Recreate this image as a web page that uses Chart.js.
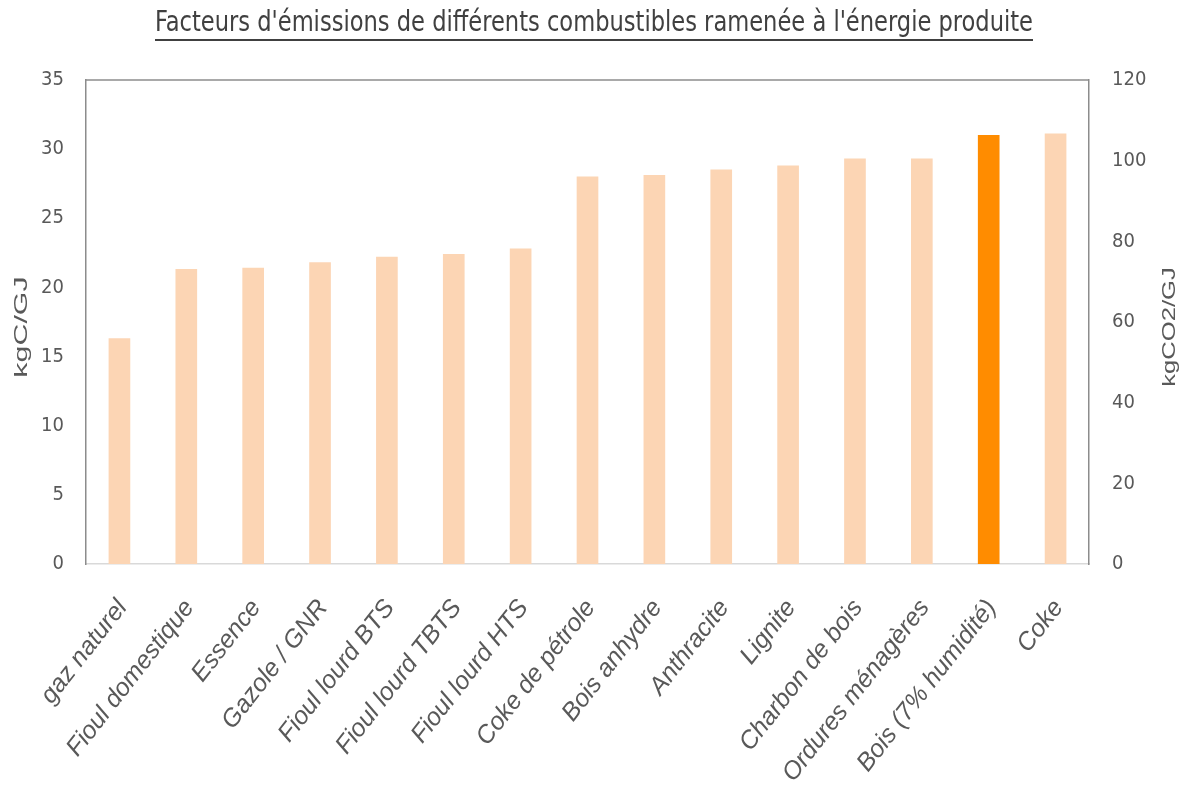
<!DOCTYPE html>
<html lang="fr">
<head>
    <meta charset="UTF-8">
    <title>Facteurs d'émissions</title>
    <script src="https://cdn.jsdelivr.net/npm/chart.js"></script>
    <style>
        html, body { margin: 0; padding: 0; background: #fff; }
        .chart-container { width: 1184px; height: 786px; }
    </style>
</head>
<body>
    <div class="chart-container">
        <canvas id="emissionsChart"></canvas>
    </div>
    <script>
        const titleText = "Facteurs d'émissions de différents combustibles ramenée à l'énergie produite";
        const categories = ['gaz naturel', 'Fioul domestique', 'Essence', 'Gazole / GNR', 'Fioul lourd BTS',
            'Fioul lourd TBTS', 'Fioul lourd HTS', 'Coke de pétrole', 'Bois anhydre', 'Anthracite',
            'Lignite', 'Charbon de bois', 'Ordures ménagères', 'Bois (7% humidité)', 'Coke'];
        const kgC = [16.3, 21.3, 21.4, 21.8, 22.2, 22.4, 22.8, 28.0, 28.1, 28.5, 28.8, 29.3, 29.3, 31.0, 31.1];
        const highlighted = 'Bois (7% humidité)';
        const leftTicks = { max: 35, step: 5, title: 'kgC/GJ' };
        const rightTicks = { max: 120, step: 20, title: 'kgCO2/GJ' };

        const narrow = '"Liberation Sans Narrow", "DejaVu Sans Condensed", "Liberation Sans", sans-serif';
        const grey = '#595959';

        // titre souligné + titres d'axes + bord haut du cadre
        const decor = {
            id: 'decor',
            afterDraw(chart) {
                const { ctx, chartArea: a } = chart;
                ctx.save();
                ctx.strokeStyle = '#8c8c8c'; ctx.lineWidth = 1.5;
                ctx.beginPath(); ctx.moveTo(a.left, a.top); ctx.lineTo(a.right, a.top); ctx.stroke();

                const cx = 594, titleW = 878;
                ctx.font = '28px ' + narrow;
                const sx = titleW / ctx.measureText(titleText).width;
                ctx.save();
                ctx.translate(cx, 31); ctx.scale(sx, 1);
                ctx.fillStyle = '#404040'; ctx.textAlign = 'center'; ctx.textBaseline = 'alphabetic';
                ctx.fillText(titleText, 0, 0);
                ctx.restore();
                ctx.strokeStyle = '#404040'; ctx.lineWidth = 2;
                ctx.beginPath(); ctx.moveTo(cx - titleW / 2, 40); ctx.lineTo(cx + titleW / 2, 40); ctx.stroke();

                ctx.fillStyle = grey; ctx.textAlign = 'center'; ctx.textBaseline = 'middle';
                const midY = (a.top + a.bottom) / 2 + 5;
                [[leftTicks.title, 22, 1.6], [rightTicks.title, 1170, 1.35]].forEach(([t, x, k]) => {
                    ctx.save();
                    ctx.translate(x, midY); ctx.rotate(-Math.PI / 2); ctx.scale(k, 1);
                    ctx.font = '19px "Liberation Sans", sans-serif';
                    ctx.fillText(t, 0, 0);
                    ctx.restore();
                });
                ctx.restore();
            }
        };

        const ctx = document.getElementById('emissionsChart').getContext('2d');
        new Chart(ctx, {
            type: 'bar',
            data: {
                labels: categories,
                datasets: [{
                    label: 'kgC/GJ',
                    data: kgC,
                    yAxisID: 'y',
                    backgroundColor: categories.map(c => c === highlighted ? '#ff8c00' : '#fcd5b4'),
                    barThickness: 21
                }]
            },
            options: {
                responsive: true, maintainAspectRatio: false, animation: false,
                layout: { padding: { top: 80, left: 0, right: 0, bottom: 0 } },
                plugins: { legend: { display: false }, tooltip: { enabled: false } },
                scales: {
                    x: {
                        grid: { display: false, drawTicks: false },
                        border: { color: '#d9d9d9', width: 1.5 },
                        ticks: { color: grey, minRotation: 52, maxRotation: 52, padding: 30, labelOffset: 3, autoSkip: false,
                            font: { family: '"Liberation Sans", sans-serif', size: 25, style: 'italic' } },
                        afterFit: s => { s.height = 222; }
                    },
                    y: {
                        position: 'left', min: 0, max: leftTicks.max,
                        grid: { display: false, drawTicks: false },
                        border: { color: '#8c8c8c', width: 1.5 },
                        ticks: { stepSize: leftTicks.step, color: grey, padding: 22, font: { family: narrow, size: 20 } },
                        afterFit: s => { s.width = 86; }
                    },
                    y1: {
                        position: 'right', min: 0, max: rightTicks.max, display: true,
                        grid: { display: false, drawTicks: false },
                        border: { color: '#8c8c8c', width: 1.5 },
                        ticks: { stepSize: rightTicks.step, color: grey, padding: 23, font: { family: narrow, size: 20 } },
                        afterFit: s => { s.width = 95; }
                    }
                }
            },
            plugins: [decor]
        });
    </script>
</body>
</html>
